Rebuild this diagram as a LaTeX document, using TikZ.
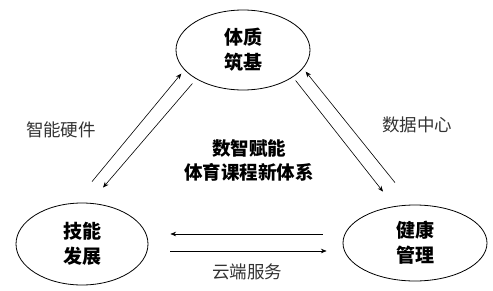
\documentclass[tikz,border=0pt]{standalone}
\usepackage{fontspec}
\setmainfont{Noto Sans CJK SC}
\usepackage{tikz}
\usetikzlibrary{arrows.meta,positioning,shapes.geometric}

\begin{document}
\begin{tikzpicture}[
  x=1pt,y=1pt,
  part/.style={draw,thick,ellipse,inner sep=0pt,align=center,
               font=\fontsize{19}{25}\selectfont\bfseries},
  tag/.style={font=\fontsize{17.5}{20}\selectfont,text=black!80},
  flow/.style={-{Stealth[length=2mm,width=1.6mm]},semithick}
]
\useasboundingbox (0,0) rectangle (493,290);
\node[part,minimum width=134pt,minimum height=80pt] (body) at (243,240) {体质\\筑基};
\node[part,minimum width=132pt,minimum height=82pt] (skill) at (82,46) {技能\\发展};
\node[part,minimum width=144pt,minimum height=76pt] (care) at (415,47) {健康\\管理};
\node[align=center,font=\fontsize{18.5}{24}\selectfont\bfseries] (core) at (249,130)
  {数智赋能\\体育课程新体系};
\node[tag] (hw) at (61,160) {智能硬件};
\node[tag] (data) at (417,165) {数据中心};
\node[tag] (cloud) at (247,18) {云端服务};
% body <-> skill
\draw[flow] ([xshift=10pt,yshift=21pt]skill.north) -- ([xshift=-14pt,yshift=5pt]body.south west);
\draw[flow] ([xshift=-3pt,yshift=-5pt]body.south west) -- ([xshift=21pt,yshift=15pt]skill.north);
% body <-> care
\draw[flow] ([xshift=5pt,yshift=-2pt]body.south east) -- ([xshift=-32pt,yshift=13pt]care.north);
\draw[flow] ([xshift=-20pt,yshift=22pt]care.north) -- ([xshift=15pt,yshift=7pt]body.south east);
% skill <-> care
\draw[flow] ([xshift=-20pt,yshift=9pt]care.west) -- ([xshift=22pt,yshift=10pt]skill.east);
\draw[flow] ([xshift=22pt,yshift=-7pt]skill.east) -- ([xshift=-16pt,yshift=-8pt]care.west);
\end{tikzpicture}
\end{document}
